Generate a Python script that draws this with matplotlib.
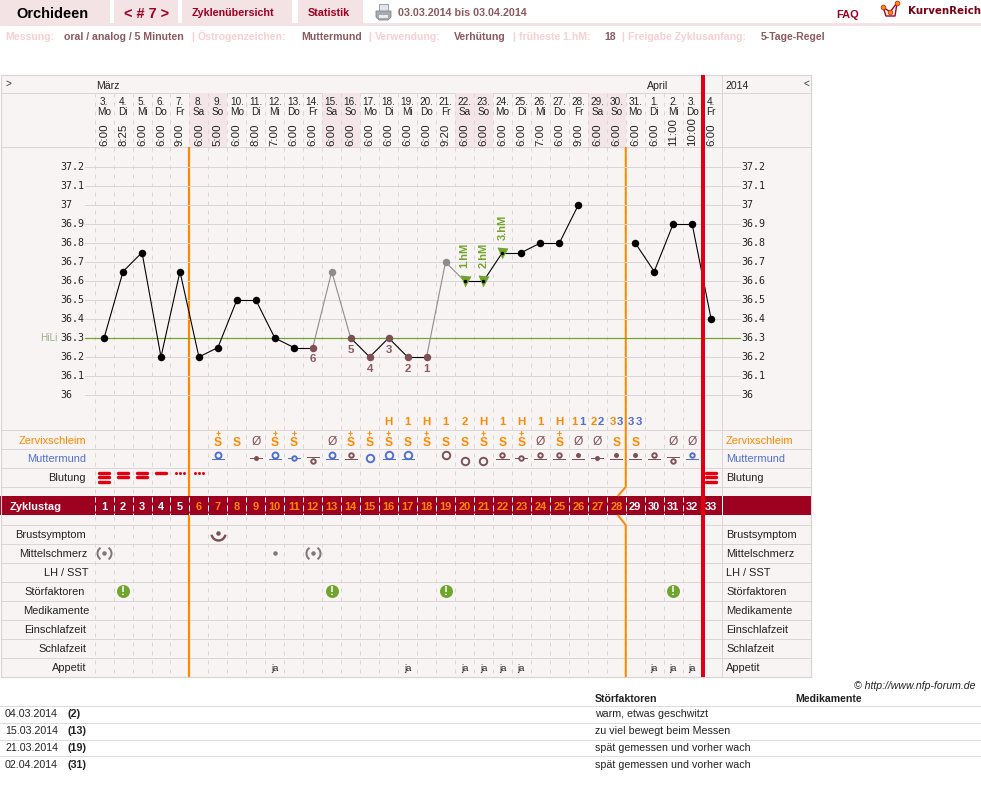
import numpy as np;import matplotlib.pyplot as plt
from matplotlib.path import Path
from matplotlib.patches import Rectangle,Polygon
from matplotlib.transforms import blended_transform_factory as blend
plt.rcParams['font.family']=['Liberation Sans','DejaVu Sans']
# cycle data
cycle_days=list(range(1,34))
dates=[3,4,5,6,7,8,9,10,11,12,13,14,15,16,17,18,19,20,21,22,23,24,25,26,27,28,29,30,31,1,2,3,4]
weekdays=['Mo','Di','Mi','Do','Fr','Sa','So']*4+['Mo','Di','Mi','Do','Fr']
times=['6:00','8:25','6:00','6:00','9:00','6:00','5:00','6:00','8:00','7:00','6:00','6:00','6:00','6:00','6:00','6:00','6:00','6:00','9:20','6:00','6:00','6:00','6:00','7:00','6:00','9:00','6:00','6:00','6:00','6:00','11:00','10:00','6:00']
weekend_days=[6,7,13,14,20,21,27,28]
temps=[36.3,36.65,36.75,36.2,36.65,36.2,36.25,36.5,36.5,36.3,36.25,36.25,36.65,36.3,36.2,36.3,36.2,36.2,36.7,36.6,36.6,36.75,36.75,36.8,36.8,37.0,None,None,36.8,36.65,36.9,36.9,36.4]
excluded_days=[13,19]
low_days=[12,14,15,16,17,18]
low_labels=['6','5','4','3','2','1']
hm_days=[20,21,22]
hm_labels=['1.hM','2.hM','3.hM']
temp_ticks=[37.2,37.1,37,36.9,36.8,36.7,36.6,36.5,36.4,36.3,36.2,36.1,36]
hili=36.3
peak_days=[16,17,18,19,20,21,22,23,24,25]
peak_labels=['H','1','H','1','2','H','1','H','1','H']
count_days=[26,27,28,29]
count_labels=['11','22','33','33']
cerv_days=[7,8,9,10,11,13,14,15,16,17,18,19,20,21,22,23,24,25,26,27,28,29,31,32]
cerv_codes=['S+','S','O','S+','S+','O','S+','S+','S+','S','S+','S','S','S+','S','S+','O','S+','O','O','S','S','O','O']
# Muttermund: day, opening (p point, s small, m medium, l large), height (h/m/l), soft=blue
mm_days=[7,9,10,11,12,13,14,15,16,17,19,20,21,22,23,24,25,26,27,28,29,30,31,32]
mm_open=['m','p','m','s','s','m','s','l','l','l','l','l','l','s','s','s','s','p','p','p','p','s','s','s']
mm_height=['h','m','h','m','l','h','h','m','h','h','h','l','l','h','m','h','h','h','m','h','h','h','l','h']
mm_soft=[1,0,1,1,0,1,0,1,1,1,0,0,0,0,0,0,0,0,0,0,0,0,0,1]
bleed_days=[1,2,3,4,5,6,33]
bleed_strength=[3,2,2,1,0,0,3]
pain_big_days=[1,12]
pain_small_days=[10]
breast_days=[7]
stoer_days=[2,13,19,31]
appetit_days=[10,17,20,21,22,23,30,31,32]
row_names=['Brustsymptom','Mittelschmerz','LH / SST','Störfaktoren','Medikamente','Einschlafzeit','Schlafzeit','Appetit']
row_right=[86,87,88,85,89,86,86,86]
notes_dates=['04.03.2014','15.03.2014','21.03.2014','02.04.2014']
notes_days=['(2)','(13)','(19)','(31)']
notes_text=['warm, etwas geschwitzt','zu viel bewegt beim Messen','spät gemessen und vorher wach','spät gemessen und vorher wach']
info=[(5,'Messung:',0),(64,'oral / analog / 5 Minuten',1),(191,'|',0),(198,'Östrogenzeichen:',0),(301,'Muttermund',1),(368,'|',0),(375,'Verwendung:',0),(454,'Verhütung',1),(512,'|',0),(519,'früheste 1.hM:',0),(604,'18',1),(621,'|',0),(628,'Freigabe Zyklusanfang:',0),(761,'5-Tage-Regel',1)]

PINK='#f3e3e5';PANEL='#f9f4f4';GRID='#dad6d5';MAROON='#a00020';BAND='#9e0020'
ORANGE='#ff8800';BLUE='#4f6fd0';BROWN='#7d5055';GREEN='#6fa52c';RED='#e00010';MUTED='#8a5a60';LIGHT='#f8cfd2';GRAY='#8c8c8c'
W,H=981,797
px=lambda s:s*0.72
fig=plt.figure(figsize=(W/100,H/100),dpi=100,facecolor='white')
page=fig.add_axes([0,0,1,1],zorder=0)
page.set_xlim(0,W);page.set_ylim(H,0);page.axis('off')
X0,STEP=94.6,18.97
X1=X0+33*STEP
days=fig.add_axes([X0/W,0,(X1-X0)/W,1],zorder=1)
days.set_xlim(0.5,33.5);days.set_ylim(H,0);days.axis('off')
# temperature axes: 190 px per degree, 36.0 sits at y=395
T_TOP,T_BOT=148,430
temp=fig.add_axes([X0/W,(H-T_BOT)/H,(X1-X0)/W,(T_BOT-T_TOP)/H],zorder=2)
temp.set_xlim(0.5,33.5);temp.set_ylim(36+(395-T_BOT)/190,36+(395-T_TOP)/190);temp.axis('off')

def txt(a,x,y,s,size=11,**kw):
    # baseline placement keeps umlauts from shifting a text row
    if 'va' not in kw:
        if a is temp:
            kw['va']='center'
        else:
            kw['va']='baseline';y=y+0.36*size
    kw.setdefault('color','#222222')
    return a.text(x,y,s,fontsize=px(size),clip_on=False,**kw)

# top navigation
for x,w in [(0,110),(114,64),(182,110),(298,65)]:
    page.add_patch(Rectangle((x,0),w,23,fc=PINK,ec='none'))
page.add_patch(Rectangle((0,23),W,2.5,fc=PINK,ec='none'))
txt(page,16,12.5,'Orchideen',14.5,weight='bold',color='black')
txt(page,124,12.5,'< # 7 >',14.5,weight='bold',color=MAROON)
txt(page,192,12.5,'Zyklenübersicht',10.8,weight='bold',color=MAROON)
txt(page,308,12.5,'Statistik',10.8,weight='bold',color=MAROON)
txt(page,398,12.5,'03.03.2014 bis 03.04.2014',10.7,weight='bold',color=MUTED)
txt(page,836,14.5,'FAQ',11,weight='bold',color=MAROON)
txt(page,908,10.5,'KurvenReich',10.2,weight='bold',color='#7a0018',family='DejaVu Sans')
# printer icon
page.add_patch(Rectangle((379,4),9,7,fc='#dfe6ee',ec='#8d9499',lw=0.6))
page.add_patch(Polygon([(376,11),(391,11),(391,17),(388,20),(379,20),(376,17)],fc='#a6abb0',ec='#80858a',lw=0.6))
page.add_patch(Rectangle((379,15),9,3,fc='#e8ecef',ec='none'))
# logo icon
page.plot([883,886,895,897],[7,16,16,3],color=MAROON,lw=1,zorder=3)
page.plot([883,890,897],[7,12,3],color=MAROON,lw=1,zorder=3)
page.plot([883,890,897],[7,12,3],ls='none',marker='o',ms=3.5,mfc=ORANGE,mec=MAROON,mew=0.4,zorder=4)
for x,s,dark in info:
    txt(page,x,36,s,10.5,weight='bold',color=MUTED if dark else LIGHT)

# chart panel
page.add_patch(Rectangle((1,75),810,602,fc=PANEL,ec=GRID,lw=0.8,zorder=0))
for d in weekend_days:
    days.add_patch(Rectangle((d-0.5,93),1,54,fc='#f4e6e8',ec='none',zorder=0))
for y in [93,147,430,449,468,487,525,544,563,582,601,620,639,658]:
    page.plot([1,811],[y,y],color=GRID,lw=px(1),zorder=1,solid_capstyle='butt')
page.plot([721.5,721.5],[75,677],color=GRID,lw=px(1),zorder=1)
for d in np.arange(0.5,33,1):
    days.plot([d,d],[93,677],color=GRID,lw=px(1),ls=(0,(4,5)),zorder=1)
txt(page,5,83,'>',10,color='#333333')
txt(page,96,85,'März',10.5)
txt(page,647,85,'April',10.5)
txt(page,726,85,'2014',10.5)
txt(page,803,83,'<',10,color='#333333')
for d,n,wd,t in zip(cycle_days,dates,weekdays,times):
    txt(days,d,101.5,f'{n}.',10,ha='center')
    txt(days,d,111,wd,10,ha='center')
    txt(days,d,145.5,t,11.5,ha='center',va='bottom',rotation=90)

# cycle day band
page.add_patch(Rectangle((0,496),811,19,fc=BAND,ec='none',zorder=2))
page.plot([721.5,721.5],[496,515],color='white',lw=px(1),zorder=3)
for d in np.arange(0.5,33,1):
    days.plot([d,d],[497,515],color='white',lw=px(1),ls=(0,(4,4)),zorder=3)
txt(page,10,506,'Zyklustag',11,weight='bold',color='white',zorder=4)
for d in cycle_days:
    txt(days,d,506,str(d),11,weight='bold',ha='center',color=ORANGE if 6<=d<=28 else 'white',zorder=4)

# phase boundaries
days.plot([5.5,5.5],[147,496],color=ORANGE,lw=px(2.2),zorder=2,solid_capstyle='butt')
days.plot([5.5,5.5],[515,677],color=ORANGE,lw=px(2.2),zorder=2,solid_capstyle='butt')
days.plot([28.5,28.5,28.08],[147,487,496],color=ORANGE,lw=px(2),zorder=2,solid_capstyle='butt')
days.plot([28.08,28.5,28.5],[515,525,677],color=ORANGE,lw=px(2),zorder=2,solid_capstyle='butt')

# temperature grid and scale
both=blend(page.transData,temp.transData)
for t in temp_ticks:
    if t==hili:
        temp.plot([85,740],[t,t],color=GREEN,lw=px(1.2),transform=both,zorder=3,clip_on=False)
    else:
        temp.plot([85,740],[t,t],color=GRID,lw=px(1),transform=both,zorder=1,clip_on=False)
    txt(temp,60,t,str(t),10,family='DejaVu Sans Mono',transform=both)
    txt(temp,741,t,str(t),10,family='DejaVu Sans Mono',transform=both)
txt(temp,40,hili,'HiLi',10,transform=both,color='#9aae88')

# temperature curve
for a,b,ta,tb in zip(cycle_days[:-1],cycle_days[1:],temps[:-1],temps[1:]):
    if ta is None or tb is None:
        continue
    c=GRAY if a in excluded_days or b in excluded_days else 'black'
    temp.plot([a,b],[ta,tb],color=c,lw=px(1.1),zorder=4,clip_on=False)
for d,t in zip(cycle_days,temps):
    if t is None:
        continue
    if d in hm_days:
        temp.plot(d,t,marker='v',ms=px(11),mfc=GREEN,mec='none',zorder=5)
        temp.plot(d,t,marker='o',ms=px(3.5),mfc='black',mec='none',zorder=6)
        continue
    c=GRAY if d in excluded_days else BROWN if d in low_days else 'black'
    temp.plot(d,t,marker='o',ms=px(7.5),mfc=c,mec='none',zorder=5,clip_on=False)
for d,s in zip(low_days,low_labels):
    temp.annotate(s,(d,temps[d-1]),xytext=(0,px(-12)),textcoords='offset points',ha='center',va='center',fontsize=px(11.5),weight='bold',color=MUTED)
for d,s in zip(hm_days,hm_labels):
    temp.annotate(s,(d,temps[d-1]),xytext=(0,px(13)),textcoords='offset points',ha='center',va='bottom',rotation=90,fontsize=px(11),weight='bold',color=GREEN)

# fertility signs
for d,s in zip(peak_days,peak_labels):
    txt(days,d,421,s,11.5,weight='bold',ha='center',color=ORANGE)
for i,(d,s) in enumerate(zip(count_days,count_labels)):
    txt(days,d-0.2,421,s[0],11.5,weight='bold',ha='center',color=BLUE if i==3 else ORANGE)
    txt(days,d+0.2,421,s[1],11.5,weight='bold',ha='center',color=BLUE)
for d,c in zip(cerv_days,cerv_codes):
    if c=='O':
        txt(days,d,441,'Ø',12,ha='center',color=BROWN)
    else:
        txt(days,d,442,'S',12,weight='bold',ha='center',color=ORANGE)
        if c=='S+':
            txt(days,d,433.5,'+',9,weight='bold',ha='center',color=ORANGE)
ring_size={'s':4.5,'m':6,'l':7.5}
ring_y={'h':455,'m':458,'l':461}
line_y={'h':458.5,'m':458,'l':456.5}
for d,o,h,soft in zip(mm_days,mm_open,mm_height,mm_soft):
    c=BLUE if soft else BROWN
    if o!='l' or (soft and h=='h'):
        days.plot([d-0.32,d+0.32],[line_y[h],line_y[h]],color=c,lw=px(1),zorder=4)
    if o=='p':
        days.plot(d,ring_y[h],marker='o',ms=px(5),mfc=BROWN,mec='none',zorder=5)
    else:
        days.plot(d,ring_y[h],marker='o',ms=px(ring_size[o]),mfc=PANEL,mec=c,mew=px(1.9),zorder=5)
# bleeding
for d,n in zip(bleed_days,bleed_strength):
    if n==0:
        for off in (-0.22,0,0.22):
            days.plot(d+off,473,marker='o',ms=px(3),mfc=RED,mec='none',zorder=5)
    for j in range(n):
        days.plot([d-0.28,d+0.28],[473+4.3*j,473+4.3*j],color=RED,lw=px(3.4),solid_capstyle='round',zorder=5)
txt(page,86,458,'Muttermund',11,ha='right',color=BLUE)
txt(page,86,440,'Zervixschleim',11,ha='right',color=ORANGE)
txt(page,86,477.5,'Blutung',11,ha='right')
txt(page,726,458,'Muttermund',11,color=BLUE)
txt(page,726,440,'Zervixschleim',11,color=ORANGE)
txt(page,726,477.5,'Blutung',11)
for i,name in enumerate(row_names):
    y=534.5+19*i
    txt(page,row_right[i],y,name,11,ha='right')
    txt(page,726,y,name,11)

# symptom rows
left_arc=Path.arc(125,235);right_arc=Path.arc(-55,55);smile=Path.arc(190,350)
for d in breast_days:
    days.plot(d,533,marker=smile,ms=px(14),mfc='none',mec=BROWN,mew=px(2.4),zorder=5)
    days.plot(d,533,marker='o',ms=px(4.5),mfc=BROWN,mec='none',zorder=5)
for d in pain_big_days:
    days.plot(d,553,marker='o',ms=px(4.5),mfc='#7f7878',mec='none',zorder=5)
    for arc in (left_arc,right_arc):
        days.plot(d,553,marker=arc,ms=px(14),mfc='none',mec='#7f7878',mew=px(2),zorder=5)
for d in pain_small_days:
    days.plot(d,553,marker='o',ms=px(4.5),mfc='#7f7878',mec='none',zorder=5)
for d in stoer_days:
    days.plot(d,591,marker='o',ms=px(13),mfc=GREEN,mec='none',zorder=5)
    txt(days,d,590.5,'!',12,weight='bold',ha='center',color='white',zorder=6)
for d in appetit_days:
    txt(days,d,668,'ja',9.5,ha='center')

# lines above the curve
temp.plot([32.55,32.55],[75,677],color=RED,lw=px(4),transform=days.transData,zorder=10,clip_on=False,solid_capstyle='butt')
page.add_patch(Rectangle((1,75),810,602,fc='none',ec=GRID,lw=0.8,zorder=2))

# notes table
txt(page,976,685,'© http://www.nfp-forum.de',10.5,ha='right',style='italic')
txt(page,595,698,'Störfaktoren',10.5,weight='bold')
txt(page,795,698,'Medikamente',10.5,weight='bold')
for i,(a,b,c) in enumerate(zip(notes_dates,notes_days,notes_text)):
    y=706+16.8*i
    page.plot([0,W],[y,y],color='#dddddd',lw=px(1))
    txt(page,5,y+7.5,a,10.6)
    txt(page,68,y+7.5,b,10.6,weight='bold')
    txt(page,595,y+7.5,c,10.6)
fig.savefig('out.png',dpi=100)
